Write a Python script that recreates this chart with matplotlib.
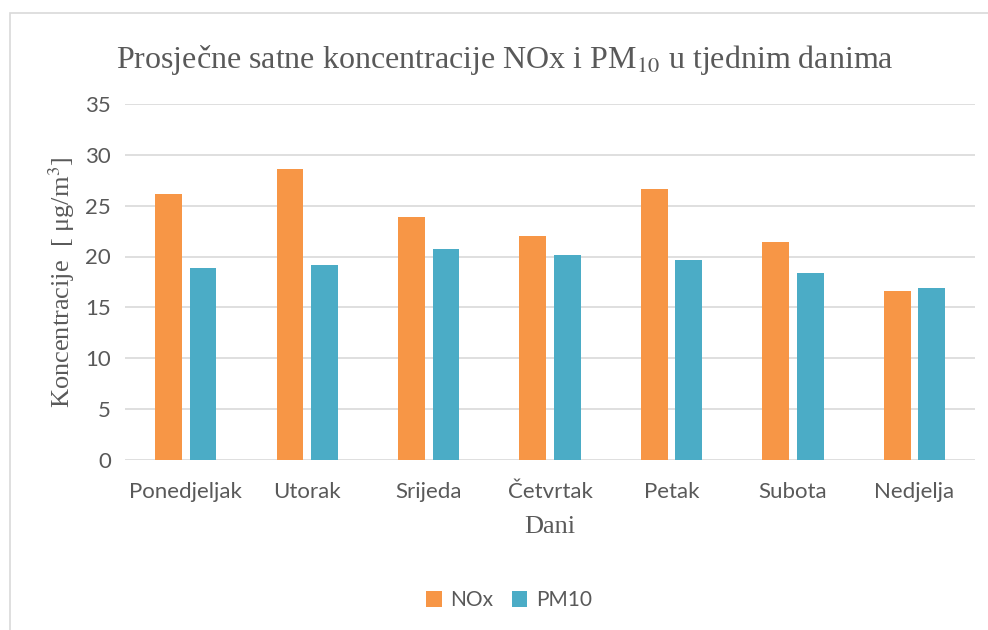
import numpy as np
import matplotlib.pyplot as plt
from matplotlib.patches import Rectangle

plt.rcParams['mathtext.fontset'] = 'stix'

dani = ['Ponedjeljak', 'Utorak', 'Srijeda', 'Četvrtak', 'Petak', 'Subota', 'Nedjelja']
nox = [26.1, 28.6, 23.9, 22.0, 26.6, 21.4, 16.6]
pm10 = [18.9, 19.2, 20.7, 20.1, 19.7, 18.4, 16.9]
yticks = [0, 5, 10, 15, 20, 25, 30, 35]

fig = plt.figure(figsize=(9.88, 6.3), dpi=100)
ax = fig.add_axes([0.1265, 0.27, 0.8605, 0.565])

x = np.arange(len(dani))
w = 0.22
ax.bar(x - 0.142, nox, w, color='#F79646', label='NOx', zorder=3)
ax.bar(x + 0.142, pm10, w, color='#4BACC6', label='PM10', zorder=3)

ax.set_xlim(-0.5, len(dani) - 0.5)
ax.set_ylim(0, 35)
ax.set_yticks(yticks)
ax.set_xticks(x)
ax.set_xticklabels(dani)
ax.grid(axis='y', color='#D9D9D9', lw=1.2, zorder=0)
for s in ax.spines.values():
    s.set_visible(False)
ax.tick_params(length=0, labelsize=16, colors='#595959')
ax.tick_params(axis='y', pad=10)
ax.tick_params(axis='x', pad=16)
for lab in ax.get_xticklabels() + ax.get_yticklabels():
    lab.set_family('Lato')

ax.set_title('Prosječne satne koncentracije NOx i PM$_{10}$ u tjednim danima',
             family='Liberation Serif', fontsize=23, color='#595959', pad=26, x=0.447)
ax.set_ylabel('Koncentracije  [ μg/m$^3$]', family='Liberation Serif', fontsize=19, color='#595959', labelpad=6)
ax.set_xlabel('Dani', family='Liberation Serif', fontsize=19, color='#595959', labelpad=10)

leg = fig.legend(loc='center', bbox_to_anchor=(0.515, 0.047), ncol=2, frameon=False,
                 prop={'family': 'Lato', 'size': 15}, handlelength=0.75, handleheight=0.75,
                 columnspacing=0.9, handletextpad=0.4)
for t in leg.get_texts():
    t.set_color('#595959')

fig.patches.append(Rectangle((10 / 988, -0.01), 1.0, 0.99, transform=fig.transFigure,
                             fill=False, edgecolor='#D9D9D9', lw=1.2))

fig.savefig('out.png', dpi=100)
